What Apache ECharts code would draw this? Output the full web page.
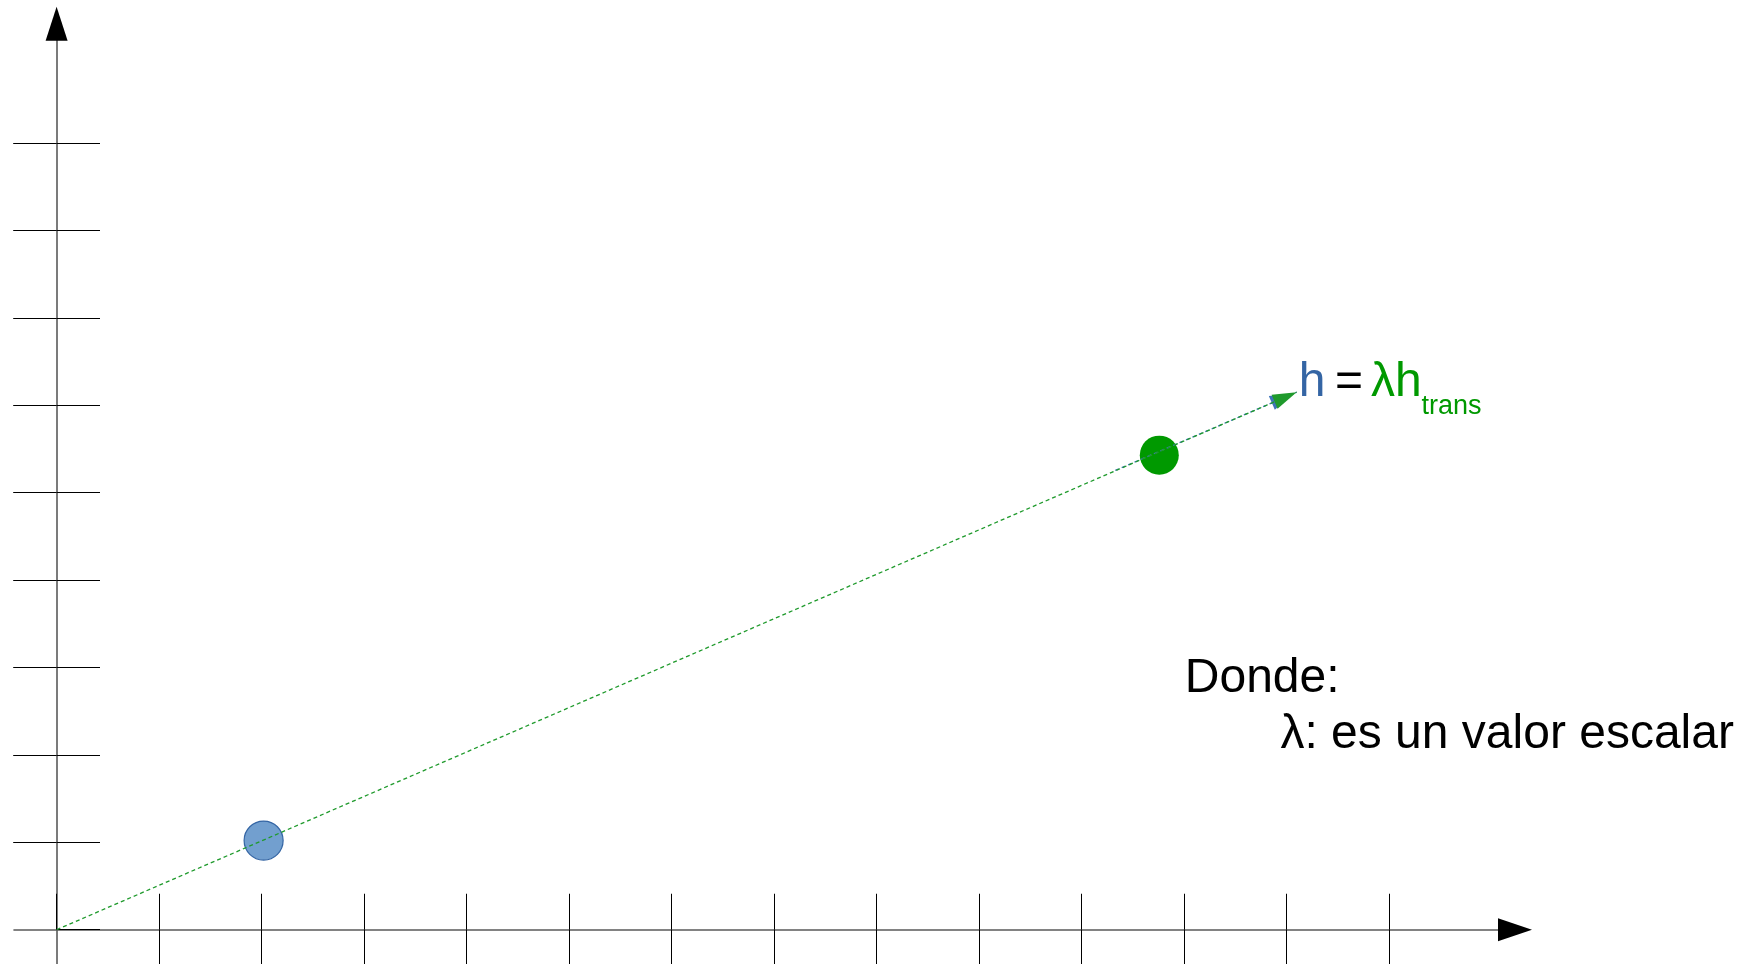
<!DOCTYPE html>
<html>
<head>
<meta charset="utf-8">
<script src="https://cdn.jsdelivr.net/npm/echarts@6/dist/echarts.min.js"></script>
<style>
html,body{margin:0;padding:0;background:#ffffff;}
#chart{width:1757px;height:964px;}
</style>
</head>
<body>
<div id="chart"></div>
<script>
// ---- data ----
const xTicks = [1, 2, 3, 4, 5, 6, 7, 8, 9, 10, 11, 12, 13];
const yTicks = [1, 2, 3, 4, 5, 6, 7, 8, 9];
const xRange = [-0.4157, 14.231];
const yRange = [-0.392, 10.366];
const origin = [0, 0];
const hPoint = [2.02, 1.02];        // h (blue)
const hTransPoint = [10.76, 5.43];  // λ·h_trans (green)
const arrowTip = [12.10, 6.15];     // end of the scaled vector
const blueSegStart = [10.3, 5.24];

const FONT = '"Liberation Sans", Arial, sans-serif';
const GREEN = '#009900';
const LINE_GREEN = '#1f9a2c';
const BLUE_FILL = '#729fcf';
const BLUE_EDGE = '#3465a4';

const chart = echarts.init(document.getElementById('chart'), null, {renderer: 'canvas'});

function xAxisDef(primary) {
  return {
    type: 'value', min: xRange[0], max: xRange[1], position: 'bottom',
    axisLine: primary
      ? {show: true, onZero: true, onZeroAxisIndex: 0, lineStyle: {color: '#5a5a5a', width: 1.6}}
      : {show: true, onZero: true, onZeroAxisIndex: 0, symbol: ['none', 'triangle'], symbolSize: [23, 34],
         lineStyle: {color: '#000000', width: 0}},
    axisTick: {show: true, inside: primary, length: primary ? 36 : 40,
               customValues: primary ? [0].concat(xTicks) : xTicks,
               lineStyle: {color: '#000000', width: 1}},
    axisLabel: {show: false},
    splitLine: {show: false}
  };
}
function yAxisDef(primary) {
  return {
    type: 'value', min: yRange[0], max: yRange[1], position: 'left',
    axisLine: primary
      ? {show: true, onZero: true, onZeroAxisIndex: 0, lineStyle: {color: '#5a5a5a', width: 1.6}}
      : {show: true, onZero: true, onZeroAxisIndex: 0, symbol: ['none', 'triangle'], symbolSize: [22, 34],
         lineStyle: {color: '#000000', width: 0}},
    axisTick: {show: true, inside: primary, length: 43.4,
               customValues: primary ? [0].concat(yTicks) : yTicks,
               lineStyle: {color: '#000000', width: 1}},
    axisLabel: {show: false},
    splitLine: {show: false}
  };
}

const option = {
  animation: false,
  backgroundColor: '#ffffff',
  grid: {left: 14, right: 242, top: 23.7, bottom: 0, containLabel: false, outerBoundsMode: 'none'},
  xAxis: [xAxisDef(true), xAxisDef(false)],
  yAxis: [yAxisDef(true), yAxisDef(false)],
  series: [
    {
      name: 'h', type: 'scatter', z: 2, silent: true,
      data: [hPoint], symbolSize: 39,
      itemStyle: {color: BLUE_FILL, borderColor: BLUE_EDGE, borderWidth: 1.2, opacity: 1},
      // blue dashed segment + blue arrow head (under the green one)
      markLine: {
        silent: true, z: 5, animation: false,
        symbol: ['none', 'triangle'],
        label: {show: false},
        emphasis: {disabled: true},
        lineStyle: {color: '#3f74b8', width: 1.3, type: [4, 3], dashOffset: 3.6},
        data: [[
          {coord: blueSegStart, symbol: 'none'},
          {coord: arrowTip, symbol: 'triangle', symbolSize: [15, 24], symbolOffset: [0, 15]}
        ]]
      }
    },
    {
      name: 'λh_trans', type: 'scatter', z: 3, silent: true,
      data: [hTransPoint], symbolSize: 39,
      itemStyle: {color: GREEN, opacity: 1},
      // green dashed vector from the origin + green arrow head
      markLine: {
        silent: true, z: 6, animation: false,
        symbol: ['none', 'triangle'],
        label: {show: false},
        emphasis: {disabled: true},
        lineStyle: {color: LINE_GREEN, width: 1.3, type: [4, 3]},
        data: [[
          {coord: origin, symbol: 'none'},
          {coord: arrowTip, symbol: 'triangle', symbolSize: [15, 24], symbolOffset: [0, 12]}
        ]]
      }
    }
  ],
  graphic: [
    {type: 'text', x: 1298.7, y: 382.5, silent: true,
     style: {text: 'h', font: '48px ' + FONT, fill: BLUE_EDGE, align: 'left', verticalAlign: 'middle'}},
    {type: 'text', x: 1335, y: 382.5, silent: true,
     style: {text: '=', font: '48px ' + FONT, fill: '#000000', align: 'left', verticalAlign: 'middle'}},
    {type: 'text', x: 1371, y: 382.5, silent: true,
     style: {text: 'λh', font: '48px ' + FONT, fill: GREEN, align: 'left', verticalAlign: 'middle'}},
    {type: 'text', x: 1421.5, y: 407, silent: true,
     style: {text: 'trans', font: '27px ' + FONT, fill: GREEN, align: 'left', verticalAlign: 'middle'}},
    {type: 'text', x: 1184.8, y: 679.2, silent: true,
     style: {text: 'Donde:', font: '48px ' + FONT, fill: '#000000', align: 'left', verticalAlign: 'middle'}},
    {type: 'text', x: 1280.4, y: 734.3, silent: true,
     style: {text: 'λ: es un valor escalar', font: '48px ' + FONT, fill: '#000000', align: 'left', verticalAlign: 'middle'}}
  ]
};
chart.setOption(option);
</script>
</body>
</html>
